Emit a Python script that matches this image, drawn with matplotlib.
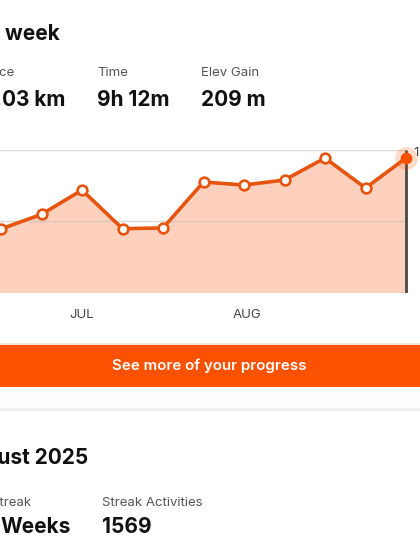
import matplotlib
matplotlib.use('Agg')
import matplotlib.pyplot as plt

# --- DATA ---
# first week sits just past the left edge of the picture, its value is an estimate
week_index = [-1, 0, 1, 2, 3, 4, 5, 6, 7, 8, 9, 10]
week_values = [38, 44.8, 55, 72, 45, 45.5, 77.6, 75.5, 79, 94.4, 73.4, 94.4]
grid_values = [0, 50, 100]
month_positions = [2, 6.07]
month_labels = ['JUL', 'AUG']

ORANGE = '#FC5200'
LINE_ORANGE = '#E6540F'
FILL = '#FDD1BE'
TEXT_DARK = '#111111'
TEXT_GREY = '#555555'

plt.rcParams['font.family'] = ['Inter', 'DejaVu Sans']

fig = plt.figure(figsize=(4.2, 5.6), dpi=100, facecolor='white')

# page layer, in pixels
page = fig.add_axes([0, 0, 1, 1])
page.set_xlim(0, 420)
page.set_ylim(560, 0)
page.axis('off')

# button and dividers
page.axhspan(386.5, 408, color='#FDFDFD', lw=0)
page.axhspan(343, 344.5, color='#FBE3D8', lw=0)
page.axhspan(344.5, 386.5, color=ORANGE, lw=0)
page.axhspan(408, 411, color='#F0F0EE', lw=0)

page.text(209.5, 366, 'See more of your progress', color='white', fontsize=10.9,
          fontweight='semibold', ha='center', va='center')

# header text, cut off by the left edge
page.text(60, 34, 'This week', color=TEXT_DARK, fontsize=15, fontweight='bold', ha='right', va='center')
page.text(15, 73.5, 'Distance', color=TEXT_GREY, fontsize=9.5, ha='right', va='center')
page.text(65.5, 99.5, '.03 km', color=TEXT_DARK, fontsize=15, fontweight='bold', ha='right', va='center')
page.text(97, 73.5, 'Time', color=TEXT_GREY, fontsize=9.5, ha='left', va='center')
page.text(97, 99.5, '9h 12m', color=TEXT_DARK, fontsize=15, fontweight='bold', ha='left', va='center')
page.text(201, 73.5, 'Elev Gain', color=TEXT_GREY, fontsize=9.5, ha='left', va='center')
page.text(201, 99.5, '209 m', color=TEXT_DARK, fontsize=15, fontweight='bold', ha='left', va='center')

# lower section
page.text(88.5, 458, 'August 2025', color=TEXT_DARK, fontsize=15, fontweight='bold', ha='right', va='center')
page.text(31, 503, 'Streak', color=TEXT_GREY, fontsize=9.5, ha='right', va='center')
page.text(71, 527, 'Weeks', color=TEXT_DARK, fontsize=15, fontweight='bold', ha='right', va='center')
page.text(102, 503, 'Streak Activities', color=TEXT_GREY, fontsize=9.5, ha='left', va='center')
page.text(102, 527, '1569', color=TEXT_DARK, fontsize=15, fontweight='bold', ha='left', va='center')

# chart, axes box runs from y=150 to y=293 px over the full width
ax = fig.add_axes([0, (560 - 293) / 560, 1, 143 / 560])
ax.patch.set_alpha(0)
ax.set_xlim(-1 / 40.5, 419 / 40.5)
ax.set_ylim(0, 100)
for side in ax.spines:
    ax.spines[side].set_visible(False)

ax.fill_between(week_index, week_values, 0, color=FILL, lw=0, zorder=1)
ax.hlines(grid_values, -1, week_index[-1], color='#C9BDB6', lw=1, alpha=0.6, zorder=2)
ax.vlines(week_index[-1], 0, 100, color='#4A4A44', lw=2, zorder=3)
ax.plot(week_index, week_values, color=LINE_ORANGE, lw=2.6, zorder=4, clip_on=True)
ax.plot(week_index[:-1], week_values[:-1], 'o', ms=7, mfc='white', mec=LINE_ORANGE, mew=1.9,
        zorder=5, clip_on=False)

# highlighted last point
ax.plot(week_index[-1], week_values[-1], 'o', ms=16.5, mfc=ORANGE, mec='none', alpha=0.2, zorder=5,
        clip_on=False)
ax.plot(week_index[-1], week_values[-1], 'o', ms=8.4, mfc=ORANGE, mec='none', zorder=6, clip_on=False)
ax.text(week_index[-1] + 0.19, 98, '1', color='#444444', fontsize=9.5, ha='left', va='center')

ax.set_yticks([])
ax.set_xticks(month_positions)
ax.set_xticklabels(month_labels, fontsize=9.5, color='#444444')
ax.tick_params(axis='x', length=0, pad=11.5)

fig.savefig('out.png', dpi=100)
